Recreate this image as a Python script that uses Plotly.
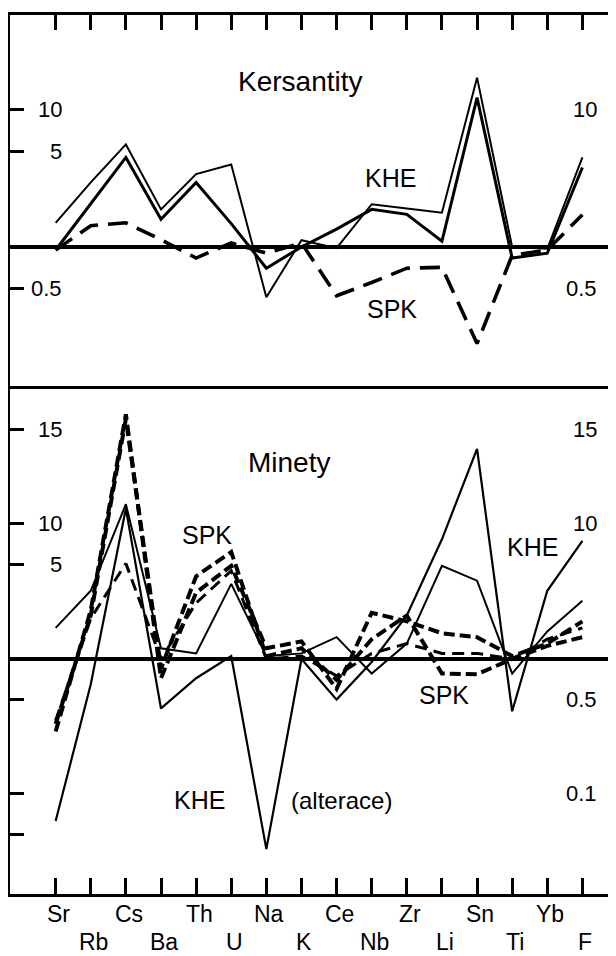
import math
import plotly.graph_objects as go

# ---------------- data ----------------
elements = ["Sr", "Rb", "Cs", "Ba", "Th", "U", "Na", "K", "Ce", "Nb", "Zr", "Li", "Sn", "Ti", "Yb", "F"]

# Kersantity (upper panel)
ker_khe_1 = [1.5, 2.96, 5.6, 1.88, 3.4, 4.0, 0.43, 1.12, 0.98, 2.05, 1.91, 1.78, 17.2, 1.0, 0.97, 4.5]
ker_khe_2 = [0.95, 2.08, 4.5, 1.59, 2.95, 1.48, 0.70, 1.0, 1.35, 1.88, 1.73, 1.1, 12.3, 0.83, 0.9, 3.8]
ker_spk = [0.95, 1.43, 1.5, 1.13, 0.83, 1.07, 0.9, 1.07, 0.44, 0.55, 0.70, 0.71, 0.197, 0.87, 0.95, 1.72]

# Minety (lower panel)
min_khe_1 = [1.7, 3.2, 14, 1.2, 1.1, 3.6, 1.05, 1.1, 1.45, 0.78, 1.3, 4.9, 3.8, 0.78, 1.6, 2.7]
min_khe_alt = [0.063, 0.65, 13, 0.43, 0.72, 1.05, 0.039, 1.0, 0.5, 0.95, 2.1, 7.7, 36, 0.41, 3.2, 7.5]
min_spk_1 = [0.29, 2.3, 65, 0.72, 3.1, 4.9, 1.2, 1.35, 0.6, 2.2, 1.9, 1.55, 1.45, 1.05, 1.3, 1.9]
min_spk_2 = [0.33, 2.1, 60, 0.85, 4.1, 6.2, 1.05, 1.2, 0.7, 1.4, 2.1, 0.78, 0.77, 1.0, 1.25, 1.45]
min_spk_3 = [0.35, 2.0, 5.1, 1.0, 2.6, 4.5, 1.0, 1.05, 0.75, 1.1, 1.3, 1.1, 1.1, 1.0, 1.4, 1.7]

upper_ticks = [10, 5, 0.5]
upper_left_labels = {10: "10", 5: "5", 0.5: "0.5"}
upper_right_labels = {10: "10", 0.5: "0.5"}
lower_ticks = [50, 10, 5, 0.5, 0.1, 0.05]
lower_left_labels = {50: "15", 10: "10", 5: "5"}
lower_right_labels = {50: "15", 10: "10", 0.5: "0.5", 0.1: "0.1"}

# ---------------- layout geometry ----------------
# the page body adds an 8 px offset; the figure is sized to fit the window
OFF = 8
W, H = 616 - OFF, 956 - OFF
ML, MR, MT, MB = 2, 2, 7, 62
PW = W - ML - MR
PH = H - MT - MB
LEFT_S = ML + OFF          # screen x of left border
BOTTOM_S = H - MB + OFF    # screen y of bottom border
split = (BOTTOM_S - 386) / PH

FONT = "Liberation Sans, Arial, sans-serif"
BLACK = "#000000"


def px(x):
    return (x - LEFT_S) / PW


def py(y):
    return (BOTTOM_S - y) / PH


fig = go.Figure()


def add_line(vals, xa, ya, width, dash):
    fig.add_trace(go.Scatter(
        x=elements, y=vals, xaxis=xa, yaxis=ya, mode="lines",
        line=dict(color=BLACK, width=width, dash=dash),
        showlegend=False, hoverinfo="skip"))


# upper panel
add_line(ker_khe_1, "x2", "y2", 2.0, "solid")
add_line(ker_khe_2, "x2", "y2", 3.0, "solid")
add_line(ker_spk, "x2", "y2", 3.6, "20px,10px")

# lower panel
add_line(min_khe_1, "x", "y", 2.0, "solid")
add_line(min_khe_alt, "x", "y", 2.2, "solid")
add_line(min_spk_3, "x", "y", 3.0, "12px,7px")
add_line(min_spk_1, "x", "y", 4.0, "11px,5px")
add_line(min_spk_2, "x", "y", 4.0, "11px,5px")

xrange = [-1.30, 15.90]

axis_common = dict(showgrid=False, zeroline=False, showline=True, linecolor=BLACK,
                   linewidth=3, ticks="inside", tickcolor=BLACK, tickwidth=2.5)

fig.update_layout(
    width=W, height=H,
    margin=dict(l=ML, r=MR, t=MT, b=MB),
    paper_bgcolor="white", plot_bgcolor="white",
    font=dict(family=FONT, color=BLACK),
    xaxis=dict(domain=[0, 1], anchor="y", type="category", categoryorder="array",
               categoryarray=elements, range=xrange, tickmode="array",
               tickvals=elements, ticklen=16, mirror=False,
               showticklabels=False, **axis_common),
    xaxis2=dict(domain=[0, 1], anchor="y2", type="category", categoryorder="array",
                categoryarray=elements, range=xrange, side="top", tickmode="array",
                tickvals=elements, ticklen=15, showticklabels=False, mirror=True,
                **axis_common),
    yaxis=dict(domain=[0, split], anchor="x", type="log", range=[-1.741, 2.022],
               tickmode="array", tickvals=lower_ticks, ticklen=14,
               showticklabels=False, **axis_common),
    yaxis3=dict(overlaying="y", anchor="x", side="right", type="log",
                range=[-1.741, 2.022], tickmode="array", tickvals=lower_ticks,
                ticklen=11, showticklabels=False, **axis_common),
    yaxis2=dict(domain=[split, 1], anchor="x2", type="log", range=[-1.015, 1.693],
                tickmode="array", tickvals=upper_ticks, ticklen=14,
                showticklabels=False, **axis_common),
    yaxis4=dict(overlaying="y2", anchor="x2", side="right", type="log",
                range=[-1.015, 1.693], tickmode="array", tickvals=upper_ticks,
                ticklen=11, showticklabels=False, **axis_common),
)

# reference lines at ratio 1
for yr in ["y", "y2"]:
    fig.add_shape(type="line", xref="paper", x0=0, x1=1, yref=yr, y0=1, y1=1,
                  line=dict(color=BLACK, width=4), layer="above")


# y tick labels
def ylabels(labels, yref, side):
    for v, t in labels.items():
        fig.add_annotation(text=t, xref="paper", x=px(63 if side == "l" else 598),
                           xanchor="right", yref=yref, y=math.log10(v), yanchor="middle",
                           showarrow=False, borderpad=0,
                           font=dict(size=22, family=FONT, color=BLACK))


ylabels(upper_left_labels, "y2", "l")
ylabels(upper_right_labels, "y2", "r")
ylabels(lower_left_labels, "y", "l")
ylabels(lower_right_labels, "y", "r")

# x category labels in two staggered rows
for i, e in enumerate(elements):
    fig.add_annotation(text=e, xref="x", x=e, xshift=3, yref="paper",
                       y=py(914 if i % 2 == 0 else 942), yanchor="middle",
                       xanchor="center", showarrow=False, borderpad=0,
                       font=dict(size=23, family=FONT, color=BLACK))

# text labels
texts = [
    ("Kersantity", 300, 82, 28),
    ("KHE", 391, 178, 25),
    ("SPK", 392, 309, 25),
    ("Minety", 289, 463, 28),
    ("SPK", 207, 535, 25),
    ("KHE", 532, 547, 25),
    ("SPK", 444, 695, 25),
    ("KHE", 199, 800, 25),
    ("(alterace)", 341, 800, 24),
]
for t, x, y, s in texts:
    fig.add_annotation(text=t, xref="paper", yref="paper", x=px(x), y=py(y),
                       xanchor="center", yanchor="middle", showarrow=False,
                       font=dict(size=s, family=FONT, color=BLACK))

fig.write_html("out.html")
